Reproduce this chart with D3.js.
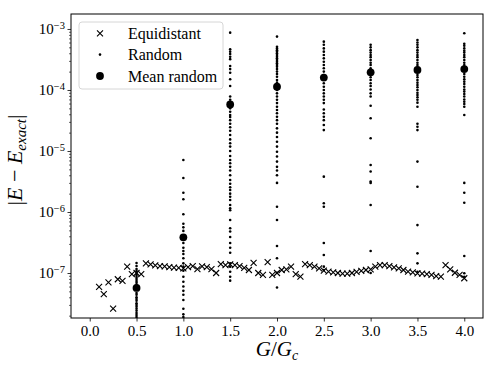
<!DOCTYPE html>
<html><head><meta charset="utf-8">
<script src="https://cdn.jsdelivr.net/npm/d3@7"></script>
<style>
body{margin:0;background:#fff;}
svg{display:block;}
text{font-family:"Liberation Serif","DejaVu Serif",serif;fill:#000;}
</style></head><body>
<svg id="chart" width="498" height="374"></svg>
<script>
// ---------- DATA ----------
const equiX = [0.1,0.15,0.2,0.25,0.3,0.35,0.4,0.45,0.5,0.55,0.6,0.65,0.7,0.75,0.8,0.85,0.9,0.95,1.0,
  1.05,1.1,1.15,1.2,1.25,1.3,1.35,1.4,1.45,1.5,1.55,1.6,1.65,1.7,1.75,1.8,1.85,1.9,1.95,2.0,
  2.05,2.1,2.15,2.2,2.25,2.3,2.35,2.4,2.45,2.5,2.55,2.6,2.65,2.7,2.75,2.8,2.85,2.9,2.95,3.0,
  3.05,3.1,3.15,3.2,3.25,3.3,3.35,3.4,3.45,3.5,3.55,3.6,3.65,3.7,3.75,3.8,3.85,3.9,3.95,4.0];
const equiY = [5.9e-8,4.5e-8,7.0e-8,2.6e-8,7.9e-8,7.4e-8,1.27e-7,9.6e-8,1.0e-7,9.6e-8,1.44e-7,1.38e-7,1.33e-7,1.30e-7,1.28e-7,1.25e-7,1.23e-7,1.21e-7,1.19e-7,
  1.25e-7,1.30e-7,1.16e-7,1.28e-7,1.25e-7,1.16e-7,1.0e-7,1.40e-7,1.35e-7,1.38e-7,1.35e-7,1.30e-7,1.21e-7,1.12e-7,1.46e-7,1.0e-7,9.3e-8,1.51e-7,9.3e-8,1.0e-7,
  1.12e-7,1.15e-7,1.27e-7,9.6e-8,8.7e-8,1.40e-7,1.35e-7,1.27e-7,1.19e-7,1.09e-7,1.05e-7,1.02e-7,1.0e-7,9.8e-8,9.8e-8,1.0e-7,1.04e-7,1.08e-7,1.12e-7,1.15e-7,
  1.27e-7,1.35e-7,1.35e-7,1.30e-7,1.24e-7,1.19e-7,1.12e-7,1.05e-7,1.02e-7,9.9e-8,9.8e-8,9.6e-8,9.3e-8,8.9e-8,8.7e-8,1.35e-7,1.15e-7,1.01e-7,9.3e-8,8.2e-8];

const randomX = [0.5,1.0,1.5,2.0,2.5,3.0,3.5,4.0];
const random05 = [1.46e-7,1.30e-7,1.16e-7,1.08e-7,1.0e-7,9.3e-8,8.6e-8,8.0e-8,7.4e-8,6.9e-8,6.4e-8,5.9e-8,5.3e-8,4.7e-8,4.4e-8,4.0e-8,3.75e-8,3.5e-8,3.2e-8,3.0e-8,2.8e-8,2.6e-8,2.4e-8,2.2e-8,2.05e-8,1.9e-8,1.5e-8,1.2e-8];
const random10 = [7.1e-6,3.6e-6,2.07e-6,1.62e-6,9.2e-7,6.4e-7,5.6e-7,4.9e-7,3.1e-7,2.6e-7,2.3e-7,2.05e-7,1.75e-7,1.44e-7,1.27e-7,1.09e-7,8.7e-8,7.2e-8,6.0e-8,5.1e-8,4.4e-8,3.6e-8,2.6e-8,2.1e-8,1.9e-8];
const random15 = [8.7e-4,4.65e-4,4.25e-4,3.9e-4,3.5e-4,3.2e-4,2.47e-4,2.2e-4,1.92e-4,1.5e-4,1.16e-4,7.8e-5,6.9e-5,5.0e-5,4.4e-5,3.9e-5,3.6e-5,3.2e-5,2.8e-5,2.45e-5,2.15e-5,1.83e-5,1.55e-5,1.34e-5,1.18e-5,1.0e-5,
  8.3e-6,7.1e-6,6.3e-6,5.5e-6,4.8e-6,4.0e-6,3.35e-6,2.9e-6,2.55e-6,2.3e-6,2.0e-6,1.78e-6,1.57e-6,1.3e-6,1.15e-6,1.07e-6,7.4e-7,5.4e-7,4.8e-7,3.9e-7,3.1e-7,2.6e-7,2.15e-7,1.44e-7,1.27e-7,1.05e-7,8.7e-8,7.5e-8];
const random20 = [7.5e-4,5.1e-4,4.8e-4,4.5e-4,4.25e-4,4.0e-4,3.75e-4,3.5e-4,3.3e-4,3.1e-4,2.9e-4,2.75e-4,2.57e-4,2.4e-4,2.2e-4,2.0e-4,1.83e-4,1.65e-4,1.46e-4,1.32e-4,1.21e-4,1.0e-4,
  8.8e-5,7.8e-5,6.9e-5,6.1e-5,5.3e-5,4.7e-5,4.15e-5,3.65e-5,3.2e-5,2.8e-5,2.35e-5,2.0e-5,1.7e-5,1.42e-5,1.18e-5,9.7e-6,8.1e-6,6.7e-6,5.5e-6,4.8e-6,4.0e-6,3.0e-6,1.22e-6,7.4e-7,2.77e-7,1.75e-7,1.01e-7,5.8e-8];
const random25 = [6.2e-4,5.5e-4,4.8e-4,4.25e-4,3.75e-4,3.3e-4,2.9e-4,2.57e-4,2.27e-4,2.0e-4,1.76e-4,1.29e-4,1.13e-4,1.0e-4,8.8e-5,7.8e-5,6.9e-5,6.1e-5,4.8e-5,4.15e-5,3.65e-5,3.2e-5,2.67e-5,2.2e-5,
  3.8e-6,1.39e-6,1.22e-6,3.1e-7,1.97e-7,1.27e-7,1.12e-7];
const random30 = [5.5e-4,5.0e-4,4.5e-4,4.1e-4,3.75e-4,3.45e-4,3.1e-4,2.8e-4,2.57e-4,2.27e-4,2.07e-4,1.76e-4,1.62e-4,1.46e-4,1.29e-4,1.16e-4,1.02e-4,8.8e-5,7.8e-5,5.5e-5,3.45e-5,1.62e-5,
  5.9e-6,4.6e-6,3.15e-6,3.0e-6,1.3e-6,2.3e-7,1.0e-7];
const random35 = [6.6e-4,6.0e-4,5.5e-4,5.0e-4,4.5e-4,4.1e-4,3.75e-4,3.45e-4,3.1e-4,2.8e-4,2.57e-4,2.36e-4,1.92e-4,1.76e-4,1.62e-4,1.46e-4,1.32e-4,1.21e-4,1.11e-4,1.0e-4,9.0e-5,8.3e-5,7.6e-5,6.9e-5,6.2e-5,5.3e-5,
  2.8e-5,2.5e-5,2.2e-5,6.7e-6,2.6e-6,6.1e-7,2.1e-7,1.44e-7,1.05e-7];
const random40 = [8.5e-4,5.7e-4,5.3e-4,4.8e-4,4.4e-4,4.1e-4,3.75e-4,3.45e-4,3.1e-4,2.8e-4,2.57e-4,2.36e-4,1.83e-4,1.65e-4,1.5e-4,1.37e-4,1.25e-4,1.13e-4,1.02e-4,9.4e-5,8.6e-5,7.8e-5,7.0e-5,6.4e-5,5.9e-5,5.3e-5,
  3.9e-5,3.0e-6,2.07e-6,1.42e-6,1.9e-7,9.9e-8,8.7e-8];
const meanRandom = [5.7e-8,3.85e-7,5.8e-5,1.13e-4,1.6e-4,1.95e-4,2.13e-4,2.2e-4];

const xTicks = [0.0,0.5,1.0,1.5,2.0,2.5,3.0,3.5,4.0];
const yTicksExp = [-7,-6,-5,-4,-3];
const legendLabels = ["Equidistant","Random","Mean random"];

// ---------- CHART ----------
const svg = d3.select("#chart");
const L=71,R=483,T=14,B=318;
const x = d3.scaleLinear().domain([-0.2,4.2]).range([L,R]);
const y = d3.scaleLog().domain([1.83e-8,1.76e-3]).range([B,T]);

const clipId="plotclip";
svg.append("defs").append("clipPath").attr("id",clipId).append("rect")
  .attr("x",L).attr("y",T).attr("width",R-L).attr("height",B-T);
const plot = svg.append("g").attr("clip-path",`url(#${clipId})`);

// equidistant x markers
const s=3;
plot.append("g").selectAll("path").data(equiX.map((d,i)=>[d,equiY[i]])).join("path")
  .attr("d",d=>{const cx=x(d[0]),cy=y(d[1]);return `M${cx-s},${cy-s}L${cx+s},${cy+s}M${cx-s},${cy+s}L${cx+s},${cy-s}`;})
  .attr("stroke","#000").attr("stroke-width",1.1).attr("fill","none");

// random dots
const randomCols=[random05,random10,random15,random20,random25,random30,random35,random40];
const pts=[];
randomCols.forEach((col,i)=>col.forEach(v=>pts.push([randomX[i],v])));
plot.append("g").selectAll("circle").data(pts).join("circle")
  .attr("cx",d=>x(d[0])).attr("cy",d=>y(d[1])).attr("r",1.3).attr("fill","#000");

// mean
plot.append("g").selectAll("circle").data(randomX.map((d,i)=>[d,meanRandom[i]])).join("circle")
  .attr("cx",d=>x(d[0])).attr("cy",d=>y(d[1])).attr("r",3.9).attr("fill","#000");

// axes
const xAxis = svg.append("g").attr("transform",`translate(0,${B})`)
  .call(d3.axisBottom(x).tickValues(xTicks).tickFormat(d3.format(".1f")).tickSize(3.5).tickPadding(4));
xAxis.select(".domain").remove();
xAxis.selectAll("text").attr("font-size",15).attr("font-family","Liberation Serif");
xAxis.selectAll("line").attr("stroke-width",0.8);

const majors = yTicksExp.map(e=>Math.pow(10,e));
const minors=[];
for(let e=-8;e<=-3;e++) for(let m=2;m<=9;m++){const v=m*Math.pow(10,e); if(v>=1.83e-8&&v<=1.76e-3) minors.push(v);}
const yMinor = svg.append("g").attr("transform",`translate(${L},0)`)
  .call(d3.axisLeft(y).tickValues(minors).tickFormat("").tickSize(2));
yMinor.select(".domain").remove();
yMinor.selectAll("line").attr("stroke-width",0.6);
const yAxis = svg.append("g").attr("transform",`translate(${L},0)`)
  .call(d3.axisLeft(y).tickValues(majors).tickFormat("").tickSize(3.5));
yAxis.select(".domain").remove();
yAxis.selectAll("line").attr("stroke-width",0.8);
yAxis.selectAll(".tick").each(function(d,i){
  const t=d3.select(this).append("text").attr("x",-6).attr("dy","0.32em")
    .attr("text-anchor","end").attr("font-size",15);
  t.append("tspan").text("10");
  t.append("tspan").attr("dy","-0.55em").attr("font-size",10.5).text("\u2212"+(-yTicksExp[i]));
});

// frame
svg.append("rect").attr("x",L).attr("y",T).attr("width",R-L).attr("height",B-T)
  .attr("fill","none").attr("stroke","#000").attr("stroke-width",1);

// axis labels
const xl = svg.append("text").attr("x",(L+R)/2).attr("y",356).attr("text-anchor","middle").attr("font-size",21);
xl.append("tspan").attr("font-style","italic").text("G");
xl.append("tspan").text("/");
xl.append("tspan").attr("font-style","italic").text("G");
xl.append("tspan").attr("font-style","italic").attr("font-size",14).attr("dy","0.25em").text("c");

const yl = svg.append("text").attr("transform",`translate(22,160) rotate(-90)`)
  .attr("text-anchor","middle").attr("font-size",22);
yl.append("tspan").text("|");
yl.append("tspan").attr("font-style","italic").text("E");
yl.append("tspan").text(" \u2212 ");
yl.append("tspan").attr("font-style","italic").text("E");
yl.append("tspan").attr("font-style","italic").attr("font-size",15).attr("dy","0.25em").text("exact");
yl.append("tspan").attr("dy","-0.18em").text("|");

// legend
const lg = svg.append("g");
lg.append("rect").attr("x",79).attr("y",22).attr("width",144).attr("height",67).attr("rx",3)
  .attr("fill","#fff").attr("fill-opacity",0.8).attr("stroke","#d6d6d6").attr("stroke-width",1);
const rows=[33.3,54.6,76];
const lx=100;
lg.append("path").attr("d",`M${lx-s},${rows[0]-s}L${lx+s},${rows[0]+s}M${lx-s},${rows[0]+s}L${lx+s},${rows[0]-s}`)
  .attr("stroke","#000").attr("stroke-width",1.1);
lg.append("circle").attr("cx",lx).attr("cy",rows[1]).attr("r",1.3);
lg.append("circle").attr("cx",lx).attr("cy",rows[2]).attr("r",3.9);
legendLabels.forEach((t,i)=>lg.append("text").attr("x",128).attr("y",rows[i]).attr("dy","0.35em")
  .attr("font-size",16).text(t));
</script></body></html>
